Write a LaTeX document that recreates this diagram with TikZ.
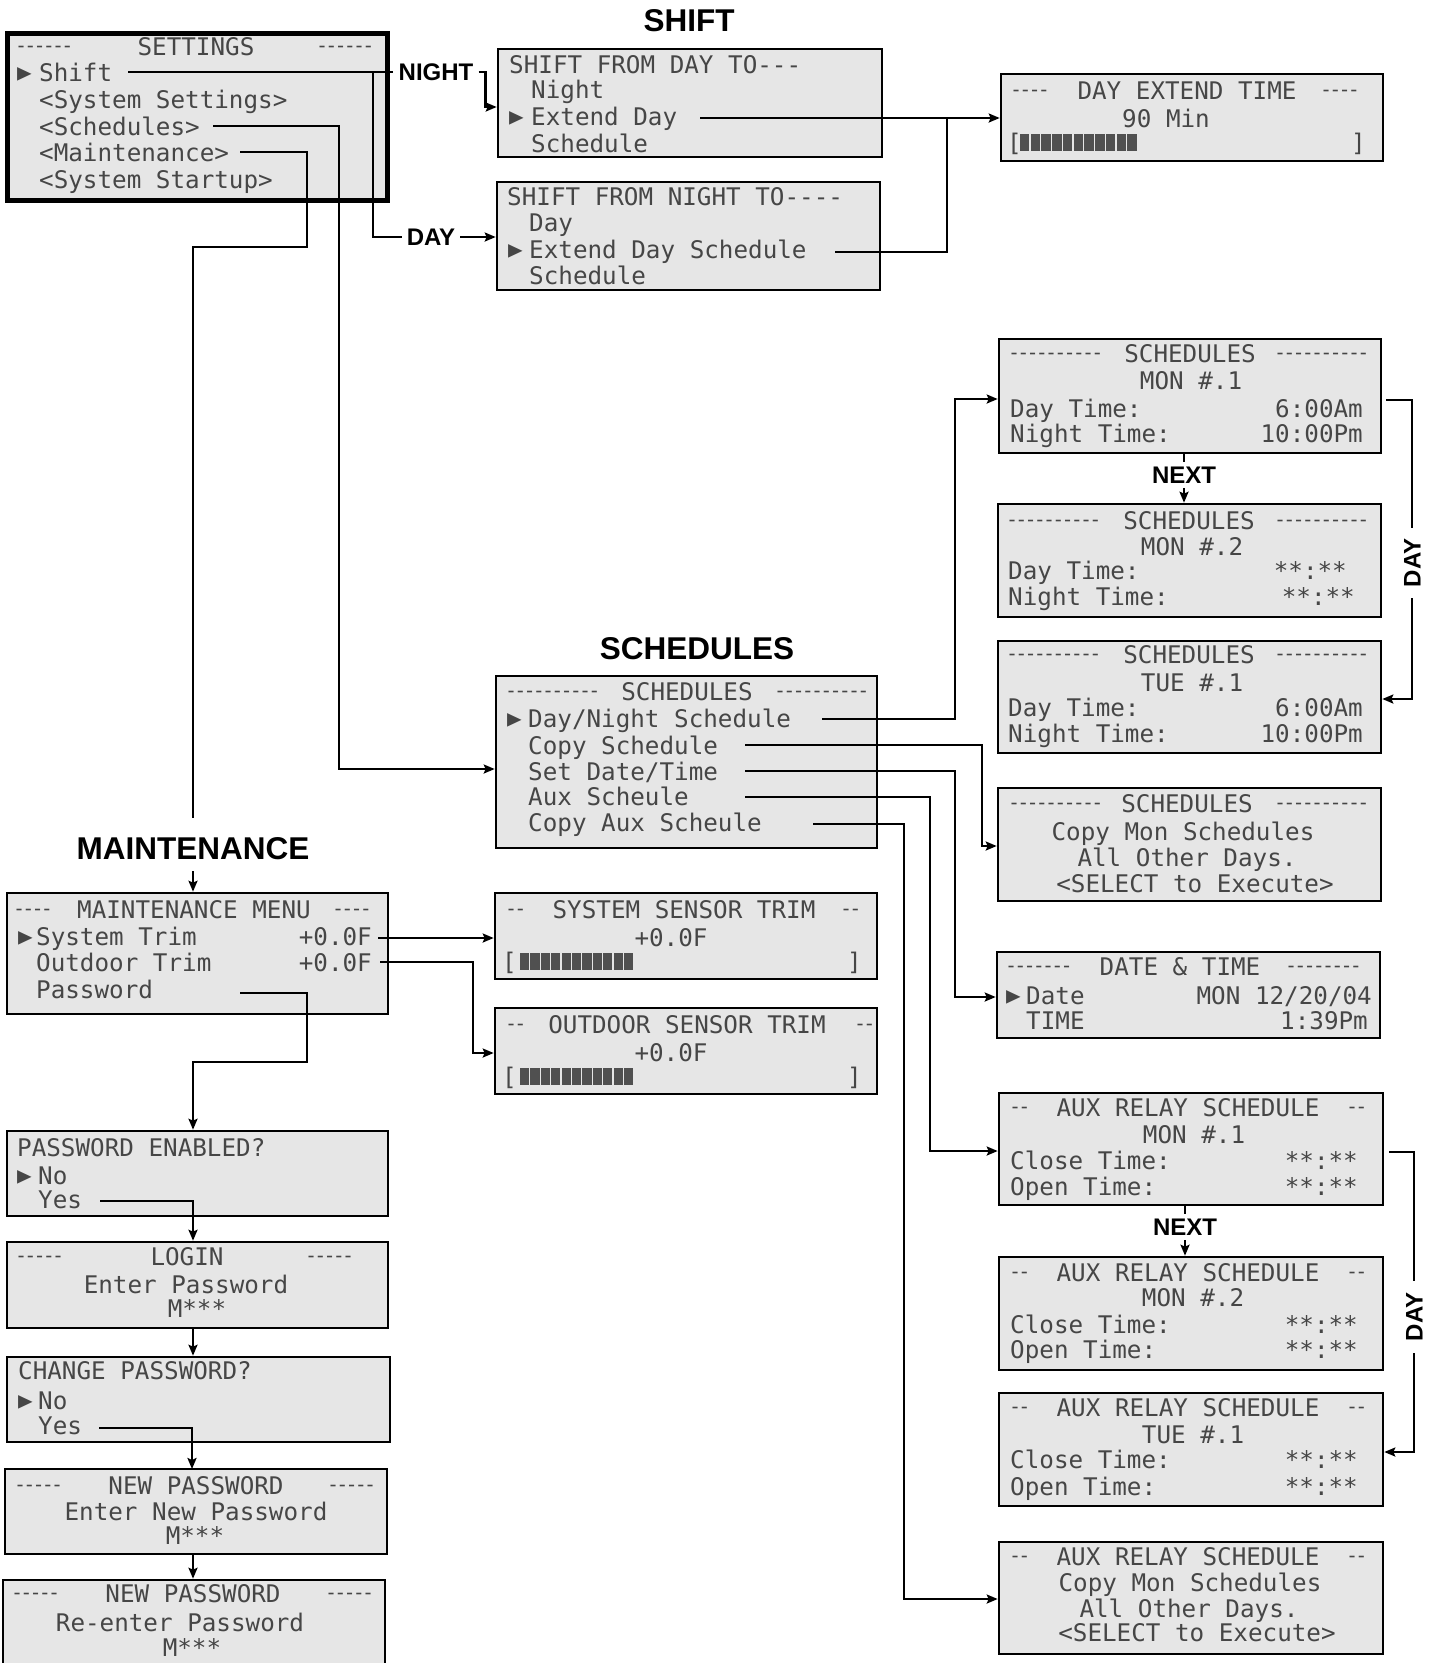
\documentclass[tikz,border=0pt]{standalone}
\usepackage{fontspec}
\usetikzlibrary{arrows.meta}
\newfontfamily\lcdfamily{DejaVu Sans Mono}[Ligatures=TeXOff]
\newfontfamily\dashfamily{DejaVu Sans Mono}[Ligatures=TeXOff,LetterSpace=-14]
\newfontfamily\labfamily{Liberation Sans}
\definecolor{lcdbg}{HTML}{E6E6E6}
\definecolor{lcdink}{HTML}{464646}
\definecolor{lcdblk}{HTML}{505050}
\newcommand\lcdmark{\raisebox{-1.9pt}{\scalebox{1.0}[1.45]{►}}}
\tikzset{
  lcd/.style={draw=black,line width=2.6pt,fill=lcdbg,inner sep=0pt},
  lt/.style={font=\lcdfamily\fontsize{24.25}{26}\selectfont,text=lcdink,inner sep=0pt,text height=17.7pt,text depth=0pt},
  ltw/.style={lt,anchor=west},
  lte/.style={lt,anchor=east},
  ltc/.style={lt,anchor=center},
  ld/.style={font=\dashfamily\fontsize{20}{20}\selectfont,text=lcdink,inner sep=0pt,text height=11pt,text depth=0pt,anchor=west},
  sec/.style={font=\labfamily\bfseries\fontsize{31.5}{32}\selectfont,inner xsep=0pt,inner ysep=12pt,text height=22.5pt,text depth=0pt},
  tag/.style={font=\labfamily\bfseries\fontsize{24}{24}\selectfont,inner xsep=5pt,inner ysep=4pt,text height=17.2pt,text depth=0pt},
  conn/.style={line width=2.4pt,line join=miter},
  arr/.style={-{Stealth[length=11pt,width=9pt,inset=2pt]}},
}
\newcommand\lcdbox[6][]{\pgfmathsetmacro\lcdw{#5-#3}\pgfmathsetmacro\lcdh{#6-#4}%
  \node[lcd,minimum width=\lcdw pt,minimum height=\lcdh pt,#1] (#2) at ({(#3+#5)/2},{(#4+#6)/2}) {};}
\newcommand\lcdbar[4]{% x0, pitch, ytop, ybot
  \foreach \k in {0,...,10}{\path[fill=lcdblk] ({#1+\k*#2},#3) rectangle ({#1+\k*#2+#2-1.3},#4);}}
\begin{document}
\begin{tikzpicture}[x=1pt,y=-1pt]
\path[use as bounding box] (0,0) rectangle (1435,1663);
\clip (0,0) rectangle (1435,1663);
\fill[white] (0,0) rectangle (1435,1663);

% ---------- boxes ----------
\lcdbox[line width=5pt]{settings}{7.5}{33.5}{387.5}{200.5}
\lcdbox{shiftA}{498}{49}{882}{157}
\lcdbox{shiftB}{497}{182}{880}{290}
\lcdbox{dext}{1001}{74}{1383}{161}
\lcdbox{sMon1}{999}{339}{1381}{453}
\lcdbox{sMon2}{998}{504}{1381}{617}
\lcdbox{sTue1}{998}{641}{1381}{753}
\lcdbox{schM}{496}{676}{877}{848}
\lcdbox{sCopy}{998}{788}{1381}{901}
\lcdbox{mainM}{7}{893}{388}{1014}
\lcdbox{sysT}{495}{893}{877}{979}
\lcdbox{dateT}{997}{952}{1380}{1038}
\lcdbox{outT}{495}{1008}{877}{1094}
\lcdbox{aM1}{999}{1093}{1383}{1205}
\lcdbox{pwE}{7}{1131}{388}{1216}
\lcdbox{login}{7}{1242}{388}{1328}
\lcdbox{aM2}{999}{1257}{1383}{1370}
\lcdbox{chg}{7}{1357}{390}{1442}
\lcdbox{aT1}{999}{1393}{1383}{1506}
\lcdbox{np1}{5}{1469}{387}{1554}
\lcdbox{aCp}{999}{1542}{1383}{1654}
\lcdbox{np2}{3}{1580}{385}{1690}

% ---------- settings ----------
\node[ld] (st-dl) at (15,47) {------};
\node[ltc] (st-t) at (196,47) {SETTINGS};
\node[ld] (st-dr) at (316,47) {------};
\node[ltw] (st-m) at (17,73) {\lcdmark};
\node[ltw] (st-1) at (39,73) {Shift};
\node[ltw] (st-2) at (39,100) {<System Settings>};
\node[ltw] (st-3) at (39,127) {<Schedules>};
\node[ltw] (st-4) at (39,153) {<Maintenance>};
\node[ltw] (st-5) at (39,180) {<System Startup>};

% ---------- shift ----------
\node[ltw] (sa-1) at (509,65) {SHIFT FROM DAY TO---};
\node[ltw] (sa-2) at (531,90) {Night};
\node[ltw] (sa-m) at (509,117) {\lcdmark};
\node[ltw] (sa-3) at (531,117) {Extend Day};
\node[ltw] (sa-4) at (531,144) {Schedule};
\node[ltw] (sb-1) at (507,197) {SHIFT FROM NIGHT TO----};
\node[ltw] (sb-2) at (529,223) {Day};
\node[ltw] (sb-m) at (508,250) {\lcdmark};
\node[ltw] (sb-3) at (529,250) {Extend Day Schedule};
\node[ltw] (sb-4) at (529,276) {Schedule};

% ---------- day extend ----------
\node[ld] (de-dl) at (1010,91) {----};
\node[ltc] (de-t) at (1187,91) {DAY EXTEND TIME};
\node[ld] (de-dr) at (1320,91) {----};
\node[ltc] (de-v) at (1166,119) {90 Min};
\node[ltw] (de-bl) at (1007,143) {[};
\lcdbar{1020}{10.73}{134}{151}
\node[lte] (de-br) at (1366,143) {]};

% ---------- schedules menu ----------
\node[ld] (sm-dl) at (505,692) {----------};
\node[ltc] (sm-t) at (687,692) {SCHEDULES};
\node[ld] (sm-dr) at (774,692) {----------};
\node[ltw] (sm-m) at (507,719) {\lcdmark};
\node[ltw] (sm-1) at (528,719) {Day/Night Schedule};
\node[ltw] (sm-2) at (528,746) {Copy Schedule};
\node[ltw] (sm-3) at (528,772) {Set Date/Time};
\node[ltw] (sm-4) at (528,797) {Aux Scheule};
\node[ltw] (sm-5) at (528,823) {Copy Aux Scheule};

% ---------- schedules MON 1 ----------
\node[ld] (m1-dl) at (1008,354) {----------};
\node[ltc] (m1-t) at (1190,354) {SCHEDULES};
\node[ld] (m1-dr) at (1274,354) {----------};
\node[ltc] (m1-d) at (1191,381) {MON \#.1};
\node[ltw] (m1-1) at (1010,409) {Day Time:};
\node[lte] (m1-1v) at (1363,409) {6:00Am};
\node[ltw] (m1-2) at (1010,434) {Night Time:};
\node[lte] (m1-2v) at (1363,434) {10:00Pm};

% ---------- schedules MON 2 ----------
\node[ld] (m2-dl) at (1006,521) {----------};
\node[ltc] (m2-t) at (1189,521) {SCHEDULES};
\node[ld] (m2-dr) at (1274,521) {----------};
\node[ltc] (m2-d) at (1192,547) {MON \#.2};
\node[ltw] (m2-1) at (1008,571) {Day Time:};
\node[lte] (m2-1v) at (1347,571) {**:**};
\node[ltw] (m2-2) at (1008,597) {Night Time:};
\node[lte] (m2-2v) at (1355,597) {**:**};

% ---------- schedules TUE 1 ----------
\node[ld] (t1-dl) at (1006,655) {----------};
\node[ltc] (t1-t) at (1189,655) {SCHEDULES};
\node[ld] (t1-dr) at (1274,655) {----------};
\node[ltc] (t1-d) at (1192,683) {TUE \#.1};
\node[ltw] (t1-1) at (1008,708) {Day Time:};
\node[lte] (t1-1v) at (1363,708) {6:00Am};
\node[ltw] (t1-2) at (1008,734) {Night Time:};
\node[lte] (t1-2v) at (1363,734) {10:00Pm};

% ---------- schedules copy ----------
\node[ld] (sc-dl) at (1008,804) {----------};
\node[ltc] (sc-t) at (1187,804) {SCHEDULES};
\node[ld] (sc-dr) at (1274,804) {----------};
\node[ltc] (sc-1) at (1183,832) {Copy Mon Schedules};
\node[ltc] (sc-2) at (1187,858) {All Other Days.};
\node[ltc] (sc-3) at (1195,884) {<SELECT to Execute>};

% ---------- date & time ----------
\node[ld] (dt-dl) at (1005,967) {-------};
\node[ltc] (dt-t) at (1180,967) {DATE \& TIME};
\node[ld] (dt-dr) at (1285,967) {--------};
\node[ltw] (dt-m) at (1006,996) {\lcdmark};
\node[ltw] (dt-1) at (1026,996) {Date};
\node[lte] (dt-1v) at (1372,996) {MON 12/20/04};
\node[ltw] (dt-2) at (1026,1021) {TIME};
\node[lte] (dt-2v) at (1368,1021) {1:39Pm};

% ---------- aux relay MON 1 ----------
\node[ld] (a1-dl) at (1009,1108) {--};
\node[ltc] (a1-t) at (1188,1108) {AUX RELAY SCHEDULE};
\node[ld] (a1-dr) at (1346,1108) {--};
\node[ltc] (a1-d) at (1194,1135) {MON \#.1};
\node[ltw] (a1-1) at (1010,1161) {Close Time:};
\node[lte] (a1-1v) at (1358,1161) {**:**};
\node[ltw] (a1-2) at (1010,1187) {Open Time:};
\node[lte] (a1-2v) at (1358,1187) {**:**};

% ---------- aux relay MON 2 ----------
\node[ld] (a2-dl) at (1009,1273) {--};
\node[ltc] (a2-t) at (1188,1273) {AUX RELAY SCHEDULE};
\node[ld] (a2-dr) at (1346,1273) {--};
\node[ltc] (a2-d) at (1193,1298) {MON \#.2};
\node[ltw] (a2-1) at (1010,1325) {Close Time:};
\node[lte] (a2-1v) at (1358,1325) {**:**};
\node[ltw] (a2-2) at (1010,1350) {Open Time:};
\node[lte] (a2-2v) at (1358,1350) {**:**};

% ---------- aux relay TUE 1 ----------
\node[ld] (a3-dl) at (1009,1408) {--};
\node[ltc] (a3-t) at (1188,1408) {AUX RELAY SCHEDULE};
\node[ld] (a3-dr) at (1346,1408) {--};
\node[ltc] (a3-d) at (1193,1435) {TUE \#.1};
\node[ltw] (a3-1) at (1010,1460) {Close Time:};
\node[lte] (a3-1v) at (1358,1460) {**:**};
\node[ltw] (a3-2) at (1010,1487) {Open Time:};
\node[lte] (a3-2v) at (1358,1487) {**:**};

% ---------- aux relay copy ----------
\node[ld] (a4-dl) at (1009,1557) {--};
\node[ltc] (a4-t) at (1188,1557) {AUX RELAY SCHEDULE};
\node[ld] (a4-dr) at (1346,1557) {--};
\node[ltc] (a4-1) at (1190,1583) {Copy Mon Schedules};
\node[ltc] (a4-2) at (1189,1609) {All Other Days.};
\node[ltc] (a4-3) at (1197,1633) {<SELECT to Execute>};

% ---------- maintenance ----------
\node[ld] (mm-dl) at (13,910) {----};
\node[ltc] (mm-t) at (194,910) {MAINTENANCE MENU};
\node[ld] (mm-dr) at (332,910) {----};
\node[ltw] (mm-m) at (18,937) {\lcdmark};
\node[ltw] (mm-1) at (36,937) {System Trim};
\node[lte] (mm-1v) at (372,937) {+0.0F};
\node[ltw] (mm-2) at (36,963) {Outdoor Trim};
\node[lte] (mm-2v) at (372,963) {+0.0F};
\node[ltw] (mm-3) at (36,990) {Password};

% ---------- sensor trims ----------
\node[ld] (ss-dl) at (505,910) {--};
\node[ltc] (ss-t) at (684,910) {SYSTEM SENSOR TRIM};
\node[ld] (ss-dr) at (840,910) {--};
\node[ltc] (ss-v) at (671,938) {+0.0F};
\node[ltw] (ss-bl) at (502,962) {[};
\lcdbar{520}{10.4}{953}{970}
\node[lte] (ss-br) at (862,962) {]};
\node[ld] (os-dl) at (505,1025) {--};
\node[ltc] (os-t) at (687,1025) {OUTDOOR SENSOR TRIM};
\node[ld] (os-dr) at (854,1025) {--};
\node[ltc] (os-v) at (671,1053) {+0.0F};
\node[ltw] (os-bl) at (502,1077) {[};
\lcdbar{520}{10.4}{1068}{1085}
\node[lte] (os-br) at (862,1077) {]};

% ---------- password chain ----------
\node[ltw] (pe-1) at (17,1148) {PASSWORD ENABLED?};
\node[ltw] (pe-m) at (17,1176) {\lcdmark};
\node[ltw] (pe-2) at (38,1176) {No};
\node[ltw] (pe-3) at (38,1200) {Yes};
\node[ld] (lg-dl) at (15,1257) {-----};
\node[ltc] (lg-t) at (187,1257) {LOGIN};
\node[ld] (lg-dr) at (305,1257) {-----};
\node[ltc] (lg-1) at (186,1285) {Enter Password};
\node[ltc] (lg-2) at (197,1309) {M***};
\node[ltw] (cp-1) at (18,1371) {CHANGE PASSWORD?};
\node[ltw] (cp-m) at (18,1401) {\lcdmark};
\node[ltw] (cp-2) at (38,1401) {No};
\node[ltw] (cp-3) at (38,1426) {Yes};
\node[ld] (n1-dl) at (14,1486) {-----};
\node[ltc] (n1-t) at (196,1486) {NEW PASSWORD};
\node[ld] (n1-dr) at (327,1486) {-----};
\node[ltc] (n1-1) at (196,1512) {Enter New Password};
\node[ltc] (n1-2) at (195,1536) {M***};
\node[ld] (n2-dl) at (11,1594) {-----};
\node[ltc] (n2-t) at (193,1594) {NEW PASSWORD};
\node[ld] (n2-dr) at (325,1594) {-----};
\node[ltc] (n2-1) at (180,1623) {Re-enter Password};
\node[ltc] (n2-2) at (192,1648) {M***};

% ---------- section labels and tags ----------
\node[sec] (shiftL) at (689,20) {SHIFT};
\node[sec] (schL) at (697,648) {SCHEDULES};
\node[sec] (mainL) at (193,848) {MAINTENANCE};
\node[tag] (night) at (436,72) {NIGHT};
\node[tag] (dayL) at (431,237) {DAY};
\node[tag] (next1) at (1184,475) {NEXT};
\node[tag] (next2) at (1185,1227) {NEXT};
\node[tag,rotate=90,inner xsep=11pt] (day1) at (1412,563) {DAY};
\node[tag,rotate=90,inner xsep=12pt] (day2) at (1414,1317) {DAY};

% ---------- connector points ----------
\coordinate (pShift) at (128,72);
\coordinate (jShift) at (373,72);
\coordinate (pSched) at (213,126);
\coordinate (pMaint) at (240,152);
\coordinate (pExtA) at (700,118);
\coordinate (pExtB) at (835,252);
\coordinate (pDN) at (822,719);
\coordinate (pCopy) at (745,745);
\coordinate (pSet) at (745,771);
\coordinate (pAux) at (745,797);
\coordinate (pCAux) at (813,824);
\coordinate (pDay1) at (1386,400);
\coordinate (pDay2) at (1389,1152);
\coordinate (pSys) at (378,938);
\coordinate (pOut) at (380,962);
\coordinate (pPw) at (240,993);
\coordinate (pYes1) at (100,1201);
\coordinate (pYes2) at (99,1428);
\coordinate (xMid) at (193,0);

% ---------- connectors ----------
\draw[conn] (pShift) -- (night.west |- pShift);
\draw[conn,arr] (night.east) -- ++(7,0) |- (shiftA.west |- 0,107);
\draw[conn] (jShift) |- (dayL.west);
\draw[conn,arr] (dayL.east) -- (shiftB.west |- dayL.east);
\draw[conn,arr] (pSched) -| (339,769) -- (schM.west |- 0,769);
\draw[conn] (pMaint) -| (307,247) -| ([yshift=7pt]mainL.north);
\draw[conn,arr] (mainL.south) -- (mainL.south |- mainM.north);

\draw[conn,arr] (pExtA) -- (dext.west |- pExtA);
\draw[conn] (pExtB) -| (947,118);

\draw[conn,arr] (pDN) -| (955,399) -- (sMon1.west |- 0,399);
\draw[conn,arr] (pCopy) -| (982,846) -- (sCopy.west |- 0,846);
\draw[conn,arr] (pSet) -| (955,997) -- (dateT.west |- 0,997);
\draw[conn,arr] (pAux) -| (930,1151) -- (aM1.west |- 0,1151);
\draw[conn,arr] (pCAux) -| (904,1599) -- (aCp.west |- 0,1599);

\draw[conn] (sMon1.south -| next1.north) -- (next1.north);
\draw[conn,arr] (next1.south) -- (next1.south |- sMon2.north);
\draw[conn] (pDay1) -| (day1.east);
\draw[conn,arr] (day1.west) |- (sTue1.east |- 0,699);

\draw[conn] (aM1.south -| next2.north) -- (next2.north);
\draw[conn,arr] (next2.south) -- (next2.south |- aM2.north);
\draw[conn] (pDay2) -| (day2.east);
\draw[conn,arr] (day2.west) |- (aT1.east |- 0,1452);

\draw[conn,arr] (pSys) -- (sysT.west |- pSys);
\draw[conn,arr] (pOut) -| (473,1053) -- (outT.west |- 0,1053);
\draw[conn,arr] (pPw) -| (307,1062) -| (xMid |- pwE.north);
\draw[conn,arr] (pYes1) -| (xMid |- login.north);
\draw[conn,arr] (xMid |- login.south) -- (xMid |- chg.north);
\draw[conn,arr] (pYes2) -| (192,1469);
\draw[conn,arr] (xMid |- np1.south) -- (xMid |- np2.north);
\end{tikzpicture}
\end{document}
